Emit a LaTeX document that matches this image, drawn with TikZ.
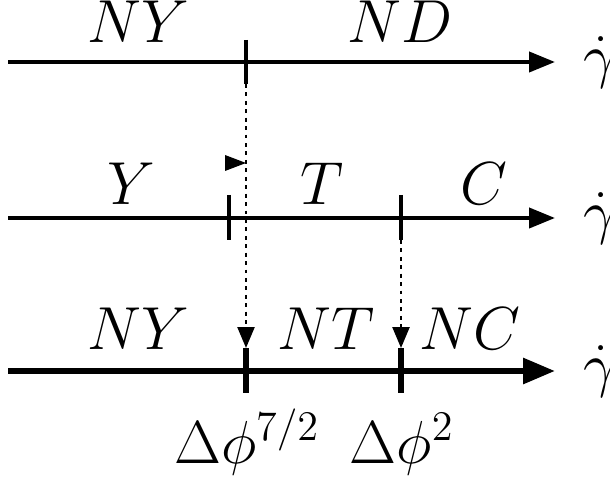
\documentclass[tikz,border=0pt]{standalone}
\usepackage{amsmath, amssymb}
\usepackage{tikz}
\usetikzlibrary{arrows.meta}
\newcommand{\supsz}[1]{\text{\fontsize{13}{15}\selectfont$#1$}}

\begin{document}
\begin{tikzpicture}[x=0.1cm,y=0.1cm,font=\fontsize{16}{19}\selectfont]
\useasboundingbox (0,0) rectangle (61,48);
% axes
\draw[line width=1.15pt,-{Triangle[length=2.6mm,width=2mm]}] (0.8,41.8)--(55.5,41.8);
\draw[line width=1.15pt,-{Triangle[length=2.6mm,width=2mm]}] (0.8,26.2)--(55.5,26.2);
\draw[line width=1.7pt,-{Triangle[length=3.2mm,width=2.5mm]}] (0.8,10.9)--(55.5,10.9);
\node[anchor=west,inner sep=0] (g1) at (58.3,41.8){$\dot\gamma$};
\node[anchor=west,inner sep=0] (g2) at (58.3,26.2){$\dot\gamma$};
\node[anchor=west,inner sep=0] (g3) at (58.3,10.9){$\dot\gamma$};
% ticks
\draw[line width=1.15pt] (24.6,44.0)--(24.6,39.6) coordinate (ttop);
\draw[line width=1.15pt] (22.9,28.5)--(22.9,24.0);
\draw[line width=1.15pt] (40.1,28.5)--(40.1,24.0) coordinate (tmid);
\draw[line width=1.7pt] (24.6,13.2) coordinate (tbot1)--(24.6,8.7);
\draw[line width=1.7pt] (40.1,13.2) coordinate (tbot2)--(40.1,8.7);
% shifts
\draw[line width=0.7pt,dash pattern=on 1.1pt off 1.3pt,-{Triangle[length=2.1mm,width=1.7mm]}] (ttop)--(tbot1);
\draw[line width=0.7pt,dash pattern=on 1.1pt off 1.3pt,-{Triangle[length=2.1mm,width=1.7mm]}] (tmid)--(tbot2);
\fill (22.5,32.5)--(24.6,31.7)--(22.5,30.9)--cycle;
% regions
\node[anchor=base] (ny1) at (13.8,43.7){$NY$};
\node[anchor=base] (nd) at (40.0,43.7){$ND$};
\node[anchor=base] (y) at (13.1,27.5){$Y$};
\node[anchor=base] (t) at (32.2,27.5){$T$};
\node[anchor=base] (c) at (48.4,27.5){$C$};
\node[anchor=base] (ny2) at (13.8,13.1){$NY$};
\node[anchor=base] (nt) at (32.6,13.1){$NT$};
\node[anchor=base] (nc) at (47.0,13.1){$NC$};
\node[anchor=base] (d1) at (24.7,1.7){$\Delta\phi^{\supsz{7/2}}$};
\node[anchor=base] (d2) at (40.2,1.7){$\Delta\phi^{\supsz{2}}$};
\end{tikzpicture}
\end{document}
